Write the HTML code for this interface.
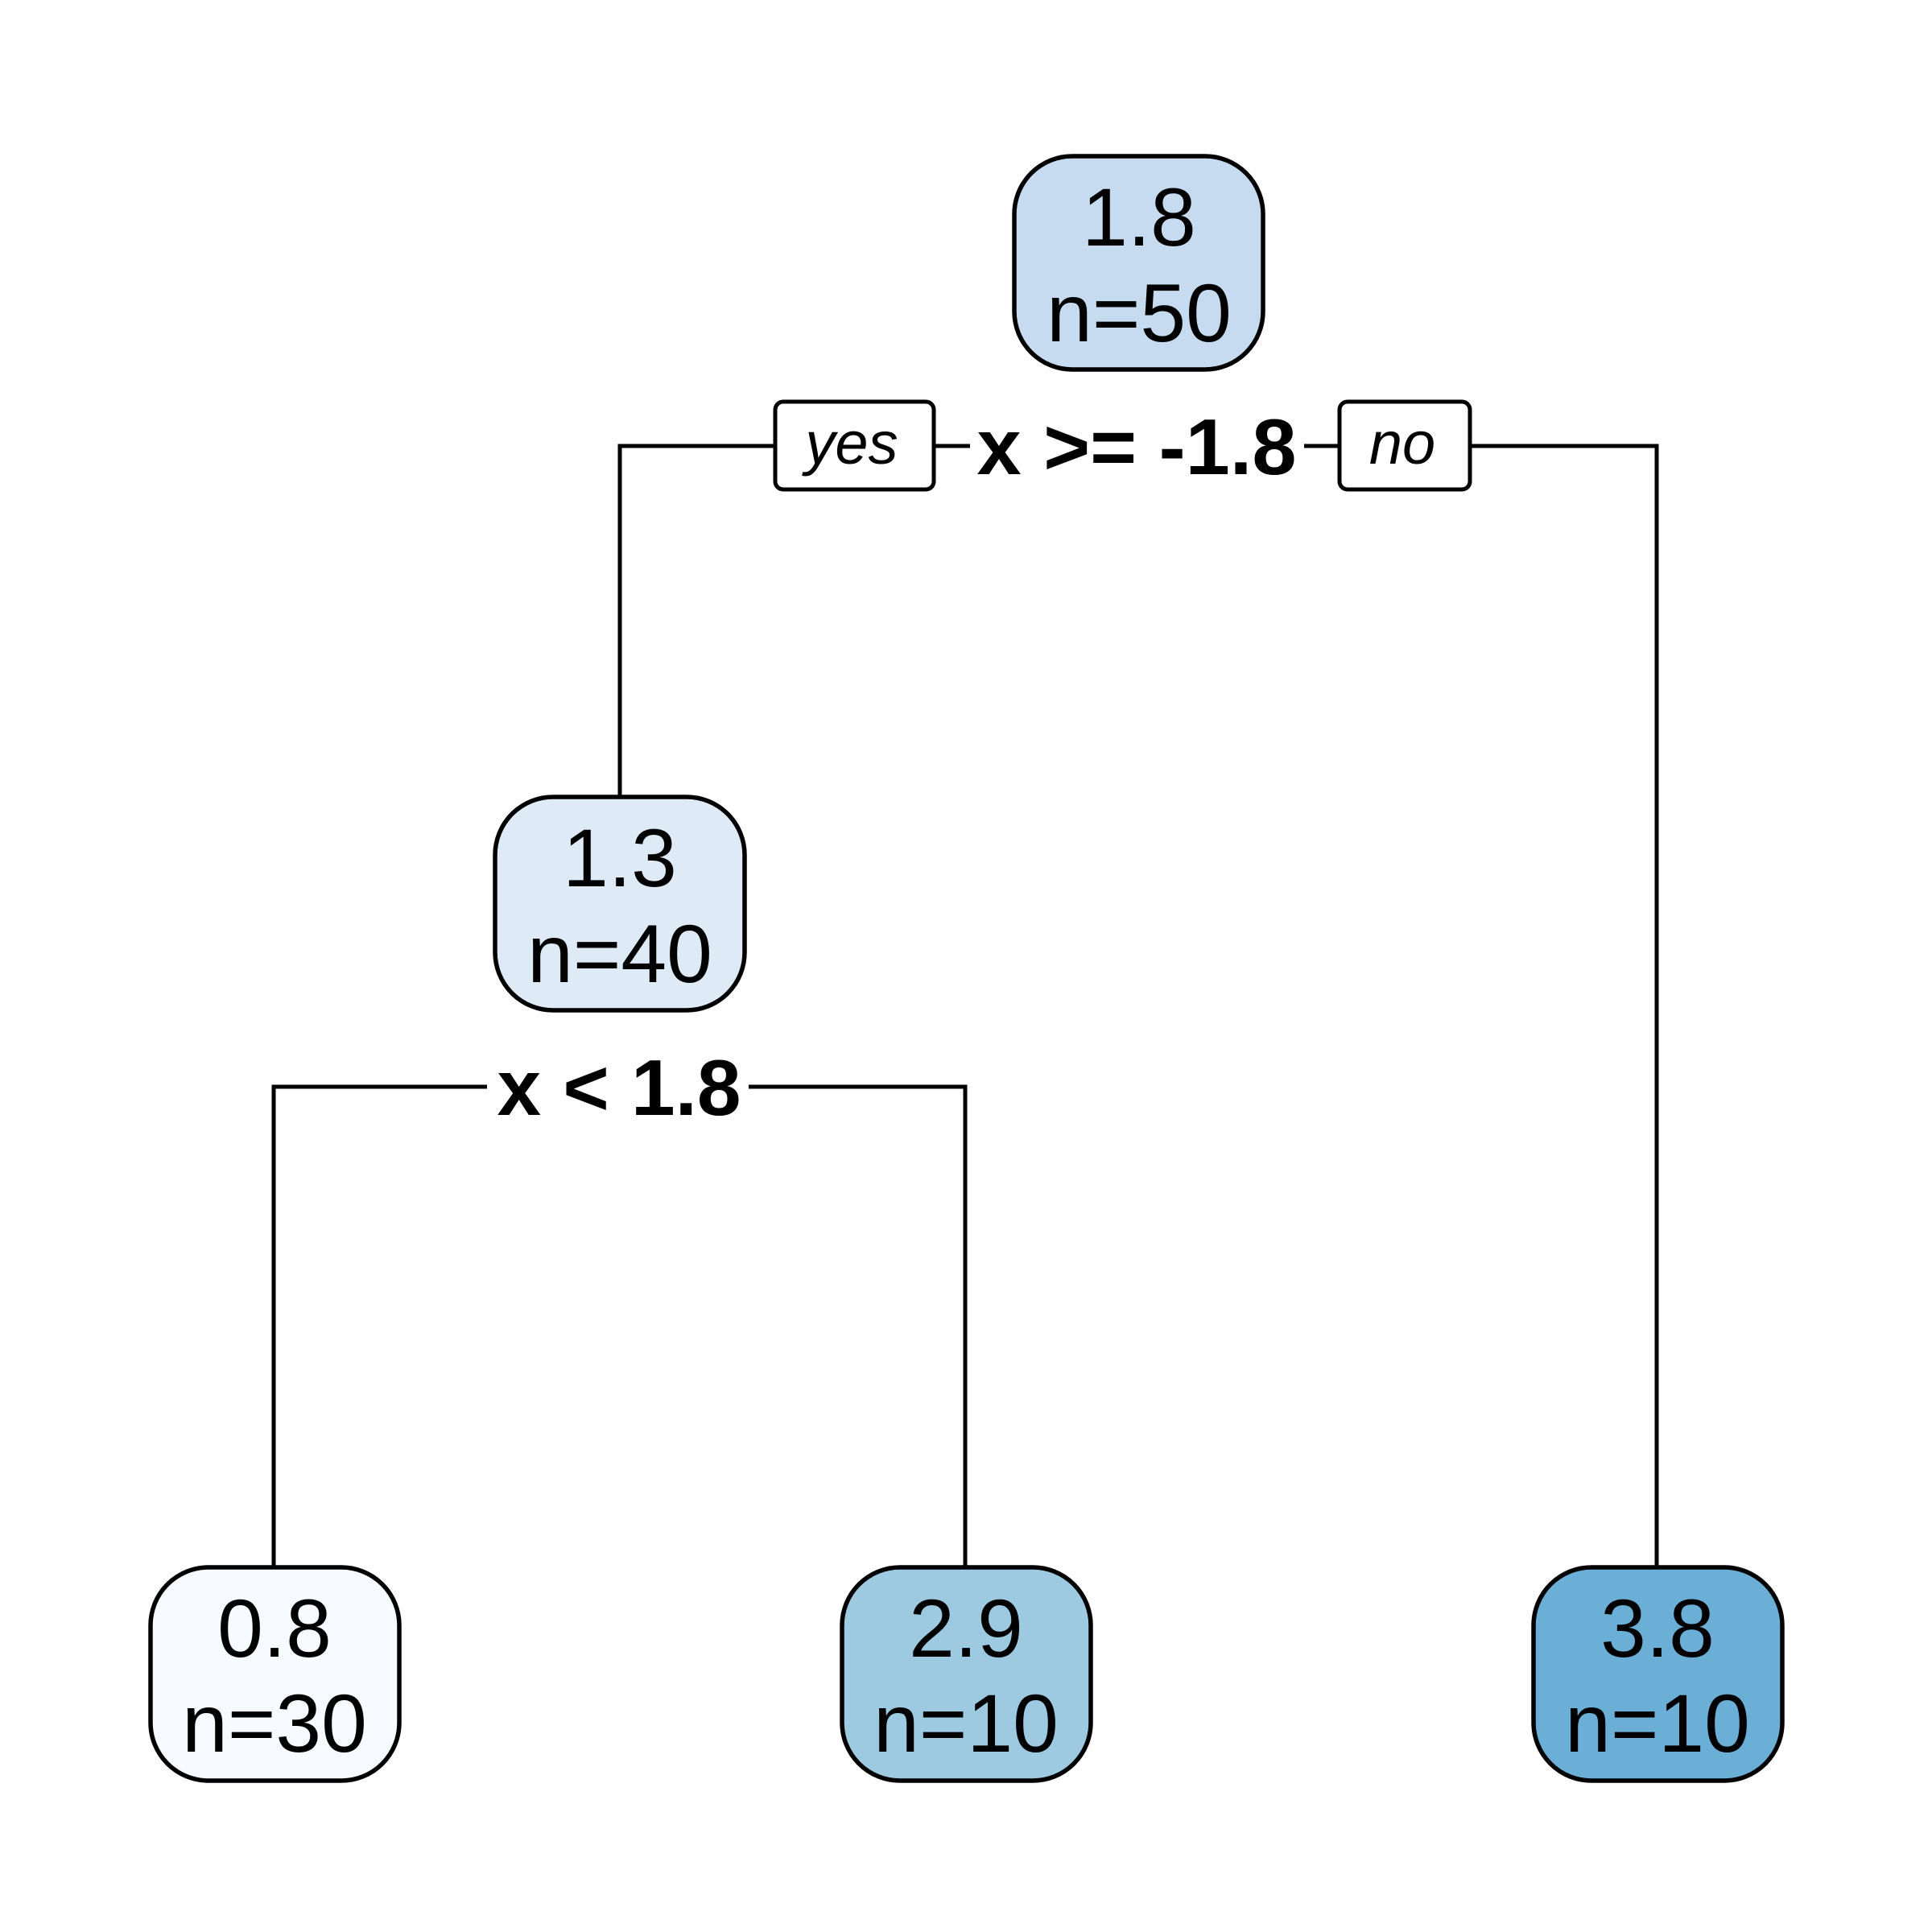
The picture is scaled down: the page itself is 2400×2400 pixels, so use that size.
<!DOCTYPE html>
<html><head><meta charset="utf-8"><style>
html,body{margin:0;padding:0;background:#fff;}
svg{display:block;}
text{font-family:"Liberation Sans",sans-serif;}
</style></head><body>
<svg width="2400" height="2400" viewBox="0 0 2400 2400" xmlns="http://www.w3.org/2000/svg">
<g stroke="#000" stroke-width="5" fill="none">
<polyline points="770,990 770,554 2058,554 2058,1947"/>
<polyline points="340,1947 340,1350 1199,1350 1199,1947"/>
</g>
<rect x="1205" y="505" width="415" height="100" fill="#fff"/>
<text x="1412" y="589" font-size="98" font-weight="bold" text-anchor="middle" textLength="397" lengthAdjust="spacingAndGlyphs">x &gt;= -1.8</text>
<rect x="605" y="1300" width="325" height="100" fill="#fff"/>
<text x="769" y="1385" font-size="98" font-weight="bold" text-anchor="middle" textLength="303" lengthAdjust="spacingAndGlyphs">x &lt; 1.8</text>
<rect x="963" y="499" width="197" height="109" rx="10" fill="#fff" stroke="#000" stroke-width="5"/>
<text x="1058" y="576" font-size="74" font-style="italic" text-anchor="middle">yes</text>
<rect x="1664" y="499" width="162" height="109" rx="10" fill="#fff" stroke="#000" stroke-width="5"/>
<text x="1742" y="576" font-size="74" font-style="italic" text-anchor="middle">no</text>
<g stroke="#000" stroke-width="5.5">
<rect x="1260" y="194" width="309" height="265" rx="72" fill="#c6dbef"/>
<rect x="615" y="990" width="310" height="265" rx="72" fill="#deebf7"/>
<rect x="187" y="1947" width="309" height="265" rx="72" fill="#f7fbff"/>
<rect x="1046" y="1947" width="309" height="265" rx="72" fill="#9ecae1"/>
<rect x="1905" y="1947" width="309" height="265" rx="72" fill="#6baed6"/>
</g>
<g font-size="102" text-anchor="middle">
<text x="1415" y="305">1.8</text><text x="1415" y="424">n=50</text>
<text x="770" y="1101">1.3</text><text x="770" y="1220">n=40</text>
<text x="341" y="2058">0.8</text><text x="341" y="2176">n=30</text>
<text x="1200" y="2058">2.9</text><text x="1200" y="2176">n=10</text>
<text x="2059" y="2058">3.8</text><text x="2059" y="2176">n=10</text>
</g>
</svg>
</body></html>
